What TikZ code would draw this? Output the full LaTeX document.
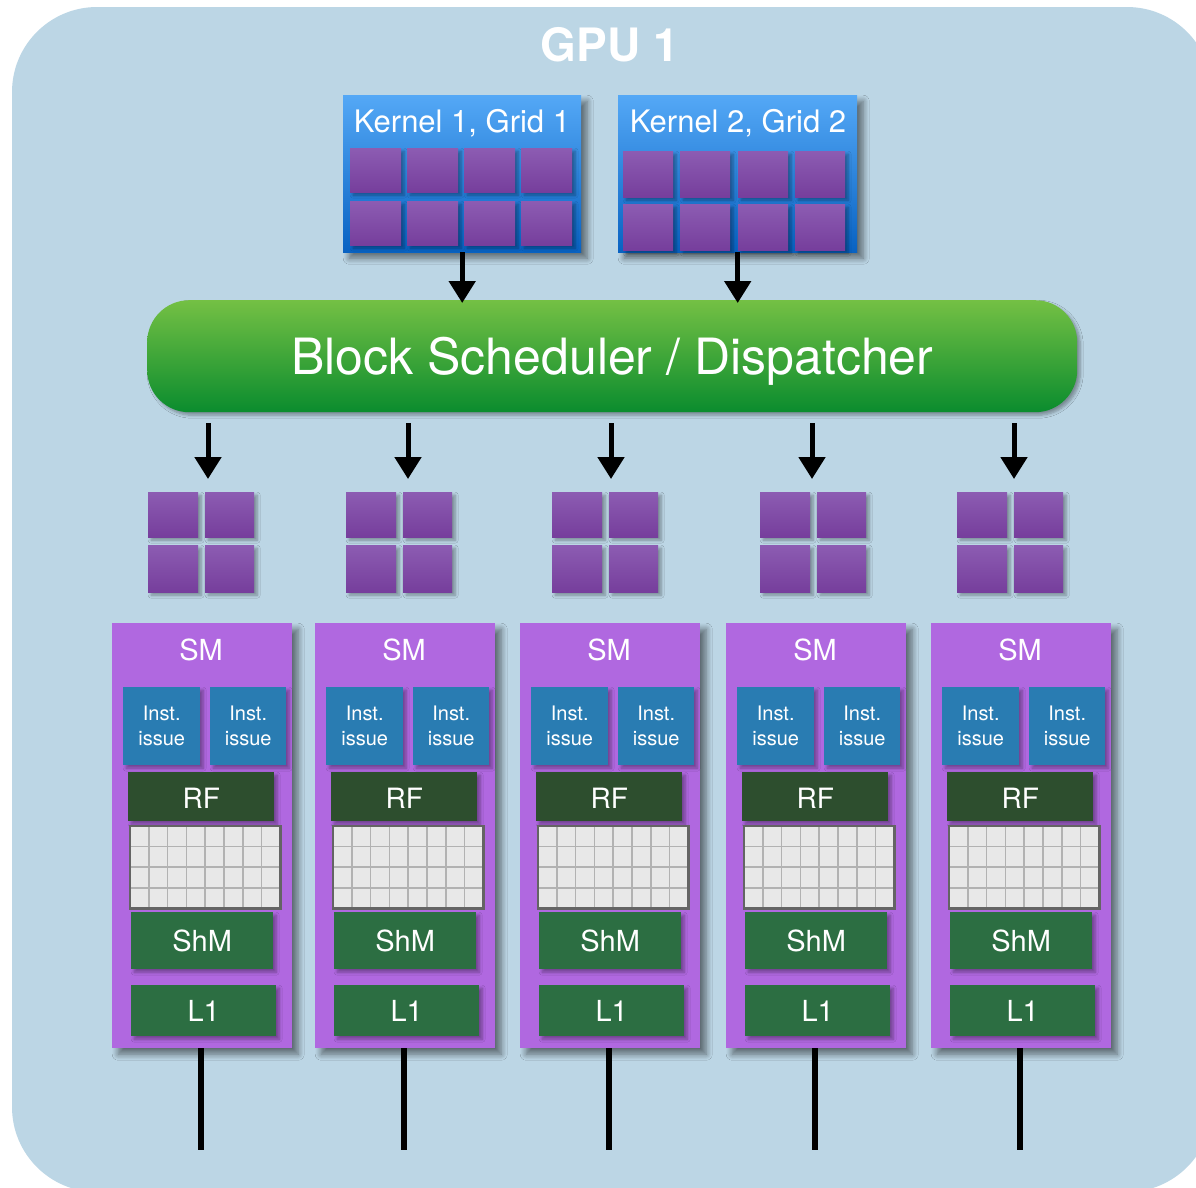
\documentclass[tikz,border=0pt]{standalone}
\usepackage{fontspec}
\setmainfont{TeX Gyre Heros}
\usetikzlibrary{arrows.meta,calc,shadows,shadows.blur}

\definecolor{gpubg}{RGB}{188,214,229}
\definecolor{kerntop}{RGB}{84,168,246}
\definecolor{kernbot}{RGB}{8,98,194}
\definecolor{blktop}{RGB}{140,92,178}
\definecolor{blkbot}{RGB}{118,62,156}
\definecolor{schedtop}{RGB}{116,192,68}
\definecolor{schedbot}{RGB}{10,140,46}
\definecolor{smfill}{RGB}{176,104,224}
\definecolor{instfill}{RGB}{41,124,178}
\definecolor{rffill}{RGB}{45,78,46}
\definecolor{memfill}{RGB}{44,110,66}
\definecolor{cellfill}{RGB}{232,232,232}
\definecolor{cellline}{RGB}{178,178,178}
\definecolor{cellframe}{RGB}{100,100,100}

\begin{document}
\begin{tikzpicture}[x=1pt,y=-1pt,
  box/.style={draw=none, inner sep=0pt, anchor=north west, text=white},
  softshadow/.style={blur shadow={shadow xshift=3pt, shadow yshift=-3pt,
      shadow blur radius=3pt, shadow blur steps=6, shadow opacity=35}},
  bigshadow/.style={blur shadow={shadow xshift=6pt, shadow yshift=-6pt,
      shadow blur radius=6pt, shadow blur steps=8, shadow opacity=50}},
  kernelbox/.style={box, top color=kerntop, bottom color=kernbot,
      minimum height=157pt, bigshadow},
  ktitle/.style={text=white, font=\fontsize{31}{36}\selectfont},
  blk/.style={box, top color=blktop, bottom color=blkbot, softshadow},
  schedbox/.style={box, top color=schedtop, bottom color=schedbot,
      rounded corners=42pt, minimum width=930pt, minimum height=112pt,
      text depth=0pt, font=\fontsize{50}{56}\selectfont, softshadow},
  smbox/.style={box, fill=smfill, minimum width=180pt, minimum height=425pt,
      bigshadow},
  smlabel/.style={text=white, font=\fontsize{29}{34}\selectfont},
  inst/.style={box, fill=instfill, minimum height=78pt, align=center,
      font=\fontsize{20}{25}\selectfont, softshadow},
  rfbox/.style={box, fill=rffill, minimum width=146pt, minimum height=49pt,
      text depth=0pt, font=\fontsize{28}{32}\selectfont, softshadow},
  gridbox/.style={box, fill=cellfill, minimum width=150pt, minimum height=82pt},
  gridline/.style={draw=cellline, line width=1.6pt},
  memboxstyle/.style={box, fill=memfill, text depth=0pt,
      font=\fontsize{29}{34}\selectfont, softshadow},
  arr/.style={-{Triangle[width=26pt,length=22pt]}, line width=5pt, black},
  busline/.style={line width=6pt, black}
]
\useasboundingbox (0,0) rectangle (1196,1187);

% GPU background panel
\begin{scope}
  \clip (0,0) rectangle (1196,1187);
  \fill[gpubg, rounded corners=85pt] (12,7) rectangle (1212,1192);
\end{scope}

\node[text=white, font=\bfseries\fontsize{46}{50}\selectfont] (title) at (610,45) {GPU 1};

% Kernel grids
\node[kernelbox, minimum width=238pt] (k1) at (343,95) {};
\node[kernelbox, minimum width=239pt] (k2) at (618,95) {};
\node[ktitle] (k1t) at (462,123) {Kernel 1, Grid 1};
\node[ktitle] (k2t) at (738,123) {Kernel 2, Grid 2};

\foreach \c/\xo in {0/7,1/64,2/121,3/178} {
  \node[blk, minimum width=51pt, minimum height=44pt] (k1-0-\c) at (343+\xo,148) {};
  \node[blk, minimum width=51pt, minimum height=44pt] (k1-1-\c) at (343+\xo,201) {};
}
\foreach \c/\xo in {0/5,1/62,2/120,3/177} {
  \node[blk, minimum width=50pt, minimum height=46pt] (k2-0-\c) at (618+\xo,151) {};
  \node[blk, minimum width=50pt, minimum height=46pt] (k2-1-\c) at (618+\xo,204) {};
}

% Block scheduler
\node[schedbox] (sched) at (147,300) {Block Scheduler / Dispatcher};

\draw[arr] (k1.south) -- ([yshift=-3pt]k1.south |- sched.north);
\draw[arr] (k2.south) -- ([yshift=-3pt]k2.south |- sched.north);

% Dispatched thread blocks, each fed by one arrow from the scheduler
\foreach \i/\gx/\ax in {1/148/208,2/346/408,3/552/611,4/760/812,5/957/1014} {
  \node[box, minimum width=106pt, minimum height=100pt] (g\i) at (\gx,492) {};
  \node[blk, minimum width=50pt, minimum height=45pt] (g\i-a) at (\gx,492) {};
  \node[blk, minimum width=49pt, minimum height=45pt] (g\i-b) at (\gx+57,492) {};
  \node[blk, minimum width=50pt, minimum height=47pt] (g\i-c) at (\gx,545) {};
  \node[blk, minimum width=49pt, minimum height=47pt] (g\i-d) at (\gx+57,545) {};
  \coordinate (g\i-in) at (\ax,479);
  \draw[arr, shorten <=11pt] (sched.south -| g\i-in) -- (g\i-in);
}

% Streaming multiprocessors
\foreach \i/\sx in {1/112,2/315,3/520,4/726,5/931} {
  \node[smbox] (sm\i) at (\sx,623) {};
  \node[smlabel] (sml\i) at (\sx+89,650) {SM};
  \node[inst, minimum width=77pt] (ia\i) at (\sx+11,687) {Inst.\\issue};
  \node[inst, minimum width=76pt] (ib\i) at (\sx+98,687) {Inst.\\issue};
  \node[rfbox] (rf\i) at (\sx+16,772) {\raisebox{-3.5pt}{RF}};
  \node[gridbox] (grid\i) at (\sx+18,826) {};
  \foreach \k in {1,...,7}
    \draw[gridline] ($(grid\i.north west)!\k/8!(grid\i.north east)$)
                 -- ($(grid\i.south west)!\k/8!(grid\i.south east)$);
  \foreach \k in {1,2,3}
    \draw[gridline] ($(grid\i.north west)!\k/4!(grid\i.south west)$)
                 -- ($(grid\i.north east)!\k/4!(grid\i.south east)$);
  \draw[cellframe, line width=2.2pt] (grid\i.north west) rectangle (grid\i.south east);
  \node[memboxstyle, minimum width=142pt, minimum height=57pt] (shm\i) at (\sx+19,912) {ShM};
  \node[memboxstyle, minimum width=145pt, minimum height=51pt] (l1\i) at (\sx+19,985) {L1};
  \coordinate (bus\i) at (\sx+89,1150);
  \draw[busline] (sm\i.south -| bus\i) -- (bus\i);
}
\end{tikzpicture}
\end{document}
